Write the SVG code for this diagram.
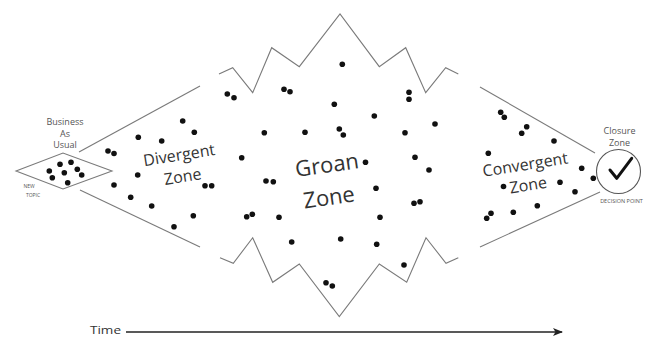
<svg xmlns="http://www.w3.org/2000/svg" width="648" height="339" viewBox="0 0 648 339">
<style>
.ln{fill:none;stroke:#7a7a7a;stroke-width:1.1;stroke-linejoin:miter}
.dot{fill:#111}
.zt{font-family:"Open Sans","Noto Sans",sans-serif;fill:#333;text-anchor:middle}
.sm{font-family:"Open Sans","Noto Sans",sans-serif;fill:#555;text-anchor:middle}
</style>
<defs>
<marker id="ah" markerWidth="10" markerHeight="8" refX="9" refY="4" orient="auto" markerUnits="userSpaceOnUse">
<path d="M0,0 L10,4 L0,8 L2.5,4 Z" fill="#222"/>
</marker>
</defs>
<rect width="648" height="339" fill="#fff"/>
<g id="connectors">
<path class="ln" d="M79,152 L200,86"/>
<path class="ln" d="M80,190 L200,247"/>
<path class="ln" d="M480,87 L595,153"/>
<path class="ln" d="M480,247 L600,192"/>
</g>
<g id="business-as-usual">
<path class="ln" d="M16,171 L63,153 L112,171 L63,189 Z"/>
<text class="sm" x="65" y="125" font-size="9">Business</text>
<text class="sm" x="65" y="136.5" font-size="9">As</text>
<text class="sm" x="65" y="148" font-size="9">Usual</text>
<text class="sm" x="29" y="188" font-size="5">NEW</text>
<text class="sm" x="33" y="197" font-size="5">TOPIC</text>
<circle class="dot" cx="49.3" cy="171" r="2.8"/>
<circle class="dot" cx="52.3" cy="177.7" r="2.8"/>
<circle class="dot" cx="60" cy="164.3" r="2.8"/>
<circle class="dot" cx="71" cy="162.3" r="2.8"/>
<circle class="dot" cx="77.3" cy="169.3" r="2.8"/>
<circle class="dot" cx="64.3" cy="172.7" r="2.8"/>
<circle class="dot" cx="81.7" cy="175" r="2.8"/>
<circle class="dot" cx="67.7" cy="182.7" r="2.8"/>
</g>
<g id="divergent-zone">
<text class="zt" font-size="16" transform="translate(180,160.5) rotate(-9)">Divergent</text>
<text class="zt" font-size="16" transform="translate(183.5,182) rotate(-9)">Zone</text>
<circle class="dot" cx="108" cy="151" r="2.8"/>
<circle class="dot" cx="114" cy="153.5" r="2.8"/>
<circle class="dot" cx="138.3" cy="137.3" r="2.8"/>
<circle class="dot" cx="161.7" cy="141" r="2.8"/>
<circle class="dot" cx="182.7" cy="121" r="2.8"/>
<circle class="dot" cx="194.3" cy="132.3" r="2.8"/>
<circle class="dot" cx="137.7" cy="175" r="2.8"/>
<circle class="dot" cx="114" cy="185" r="2.8"/>
<circle class="dot" cx="130.7" cy="197.3" r="2.8"/>
<circle class="dot" cx="151.7" cy="206" r="2.8"/>
<circle class="dot" cx="193.3" cy="215.7" r="2.8"/>
<circle class="dot" cx="174" cy="226.7" r="2.8"/>
<circle class="dot" cx="205" cy="185.7" r="2.8"/>
<circle class="dot" cx="211.7" cy="185.7" r="2.8"/>
</g>
<g id="groan-zone">
<path class="ln" d="M219,74 L232.7,67.7 L252.7,92.7 L271.7,47.7 L299.3,66.7 L340,14 L379.3,66.7 L405.7,47.7 L425.7,92.7 L445.7,67.7 L458.3,74"/>
<path class="ln" d="M220,257.7 L233.3,263.3 L252.7,237.7 L272.7,282.3 L299.3,264 L339.3,316.7 L379.3,264 L406.7,282.3 L426,237.7 L446,263.3 L458.3,257.7"/>
<text class="zt" font-size="22" transform="translate(328,172.5) rotate(-8)">Groan</text>
<text class="zt" font-size="22" transform="translate(330,205) rotate(-8)">Zone</text>
<circle class="dot" cx="227.3" cy="94" r="2.8"/>
<circle class="dot" cx="234" cy="97.7" r="2.8"/>
<circle class="dot" cx="284" cy="89.3" r="2.8"/>
<circle class="dot" cx="290" cy="91.7" r="2.8"/>
<circle class="dot" cx="342.3" cy="64.3" r="2.8"/>
<circle class="dot" cx="334.3" cy="104.3" r="2.8"/>
<circle class="dot" cx="374.3" cy="116" r="2.8"/>
<circle class="dot" cx="409" cy="92.3" r="2.8"/>
<circle class="dot" cx="409" cy="99.3" r="2.8"/>
<circle class="dot" cx="435" cy="124" r="2.8"/>
<circle class="dot" cx="264.3" cy="132.7" r="2.8"/>
<circle class="dot" cx="305" cy="132.3" r="2.8"/>
<circle class="dot" cx="339.3" cy="129" r="2.8"/>
<circle class="dot" cx="343.3" cy="135" r="2.8"/>
<circle class="dot" cx="405" cy="132.7" r="2.8"/>
<circle class="dot" cx="241.7" cy="157.7" r="2.8"/>
<circle class="dot" cx="365.5" cy="162.3" r="2.8"/>
<circle class="dot" cx="415" cy="157.3" r="2.8"/>
<circle class="dot" cx="429" cy="170" r="2.8"/>
<circle class="dot" cx="266" cy="181" r="2.8"/>
<circle class="dot" cx="273.3" cy="181.7" r="2.8"/>
<circle class="dot" cx="376" cy="188.3" r="2.8"/>
<circle class="dot" cx="414" cy="203.3" r="2.8"/>
<circle class="dot" cx="420" cy="201.7" r="2.8"/>
<circle class="dot" cx="246.7" cy="216.7" r="2.8"/>
<circle class="dot" cx="252.3" cy="214.3" r="2.8"/>
<circle class="dot" cx="279" cy="217.3" r="2.8"/>
<circle class="dot" cx="380" cy="217.3" r="2.8"/>
<circle class="dot" cx="291.7" cy="242" r="2.8"/>
<circle class="dot" cx="340.7" cy="239" r="2.8"/>
<circle class="dot" cx="376.7" cy="244.3" r="2.8"/>
<circle class="dot" cx="404" cy="265" r="2.8"/>
<circle class="dot" cx="326" cy="282.7" r="2.8"/>
<circle class="dot" cx="332.3" cy="286" r="2.8"/>
</g>
<g id="convergent-zone">
<text class="zt" font-size="16" transform="translate(526,170) rotate(-9)">Convergent</text>
<text class="zt" font-size="16" transform="translate(529,190.5) rotate(-9)">Zone</text>
<circle class="dot" cx="500.7" cy="112.3" r="2.8"/>
<circle class="dot" cx="504.3" cy="117.3" r="2.8"/>
<circle class="dot" cx="526.7" cy="126.7" r="2.8"/>
<circle class="dot" cx="521.7" cy="133.3" r="2.8"/>
<circle class="dot" cx="554" cy="141" r="2.8"/>
<circle class="dot" cx="488.3" cy="153.3" r="2.8"/>
<circle class="dot" cx="503.5" cy="186.5" r="2.8"/>
<circle class="dot" cx="560" cy="182.3" r="2.8"/>
<circle class="dot" cx="537.3" cy="205.7" r="2.8"/>
<circle class="dot" cx="513.3" cy="212.3" r="2.8"/>
<circle class="dot" cx="491" cy="213.3" r="2.8"/>
<circle class="dot" cx="486.7" cy="218.3" r="2.8"/>
<circle class="dot" cx="581.7" cy="168.3" r="2.8"/>
<circle class="dot" cx="593.3" cy="178.3" r="2.8"/>
<circle class="dot" cx="575" cy="191.7" r="2.8"/>
</g>
<g id="closure-zone">
<circle cx="618.5" cy="171.5" r="22" fill="none" stroke="#555" stroke-width="1.1"/>
<path d="M610,170 L616.7,178.3 L631.7,158.3" fill="none" stroke="#111" stroke-width="3" stroke-linecap="round" stroke-linejoin="round"/>
<text class="sm" x="619.5" y="134" font-size="9">Closure</text>
<text class="sm" x="619.5" y="146" font-size="9">Zone</text>
<text class="sm" x="621.5" y="203" font-size="5.5">DECISION POINT</text>
</g>
<g id="time">
<text x="90" y="334" font-family="'Open Sans','Noto Sans',sans-serif" font-size="11" fill="#333" textLength="31" lengthAdjust="spacingAndGlyphs">Time</text>
<path d="M126,332 L562,332" stroke="#222" stroke-width="1.5" marker-end="url(#ah)"/>
</g>
</svg>
